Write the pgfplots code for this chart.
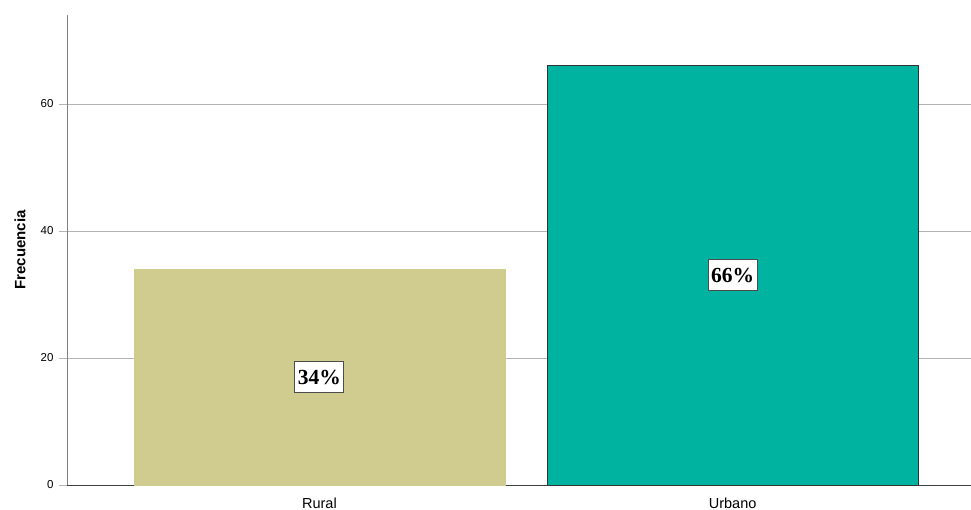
\documentclass[border=0pt]{standalone}
\usepackage{pgfplots}
\pgfplotsset{compat=1.18}
\usepackage{fontspec}
\setmainfont{Liberation Sans}
\newfontfamily\serifbold{Liberation Serif}
\definecolor{rural}{HTML}{D0CB8F}
\definecolor{urbano}{HTML}{00B2A0}
\definecolor{gridgray}{HTML}{B4B4B4}
\begin{document}
\begin{tikzpicture}
\path[use as bounding box] (-67pt,-25pt) rectangle (904pt,485pt);
\begin{axis}[
    at={(0,0)}, anchor=south west,
    scale only axis,
    width=904pt, height=470pt,
    xmin=-0.611, xmax=1.577,
    ymin=0, ymax=74,
    axis x line*=bottom,
    axis y line*=left,
    x axis line style={draw=black!75, line width=0.8pt, -},
    y axis line style={draw=black!50, line width=0.8pt, -},
    xtick={0,1},
    xticklabels={Rural, Urbano},
    ytick={0,20,40,60},
    major tick length=8pt,
    xtick style={draw=none},
    ytick style={draw=gridgray, line width=0.6pt},
    tick align=outside,
    ymajorgrids,
    grid style={draw=gridgray, line width=0.6pt},
    y tick label style={font=\fontsize{11.5}{12}\selectfont, xshift=-2pt},
    x tick label style={font=\fontsize{14.5}{16}\selectfont, yshift=-1pt},
    /pgf/number format/assume math mode=true,
    every axis y label/.style={at={(axis description cs:0,0.5)}, xshift=-47pt, rotate=90, anchor=center, font=\fontsize{15}{16}\selectfont\bfseries},
    ylabel={Frecuencia},
    clip=false,
]
\addplot[ybar, bar width=371pt, bar shift=0pt, fill=rural, draw=rural] coordinates {(0,34)};
\addplot[ybar, bar width=371pt, bar shift=0pt, fill=urbano, draw=black!80, line width=0.8pt] coordinates {(1,66)};
\addplot[only marks, mark=none, point meta=explicit symbolic,
    nodes near coords={\pgfplotspointmeta\%},
    every node near coord/.style={anchor=center, fill=white, draw=black!70, line width=1pt,
        inner xsep=3pt, inner ysep=0pt, minimum height=31pt,
        font=\fontsize{21.5}{22}\selectfont\serifbold\bfseries}]
    coordinates {(0,17)[34] (1,33)[66]};
\end{axis}
\end{tikzpicture}
\end{document}
